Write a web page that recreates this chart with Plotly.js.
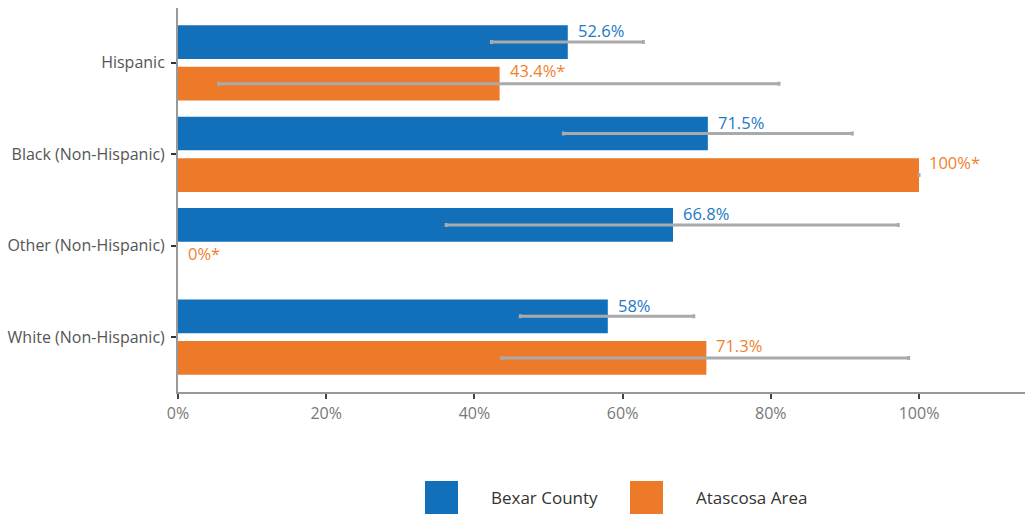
<!DOCTYPE html>
<html>
<head>
<meta charset="utf-8">
<script src="https://cdn.plot.ly/plotly-3.0.1.min.js"></script>
<style>html,body{margin:0;padding:0;background:#fff;}#chart{width:1025px;height:514px;}</style>
</head>
<body>
<div id="chart"></div>
<script>
// ---- Data ----
const categories = ["Hispanic", "Black (Non-Hispanic)", "Other (Non-Hispanic)", "White (Non-Hispanic)"];
const seriesNames = ["Bexar County", "Atascosa Area"];
const bexarValues = [52.6, 71.5, 66.8, 58];
const bexarLabels = ["52.6%", "71.5%", "66.8%", "58%"];
const bexarErrPlus = [10.2, 19.5, 30.4, 11.6];
const bexarErrMinus = [10.3, 19.5, 30.6, 11.8];
const atascosaValues = [43.4, 100, 0, 71.3];
const atascosaLabels = ["43.4%*", "100%*", "0%*", "71.3%"];
const atascosaErrPlus = [37.7, 0, NaN, 27.3];
const atascosaErrMinus = [37.9, 0, NaN, 27.6];
const xTickVals = [0, 20, 40, 60, 80, 100];
const xTickText = ["0%", "20%", "40%", "60%", "80%", "100%"];

// ---- Style ----
const BLUE = "#1170b9";
const ORANGE = "#ed7a29";
const BLUE_TXT = "#2378c6";
const ORANGE_TXT = "#f07f2e";
const FONT = "'Open Sans', sans-serif";

const errStyle = {color: "#aaaaaa", thickness: 3, width: 2};

const traces = [
  {
    type: "bar", orientation: "h", name: seriesNames[0],
    y: categories, x: bexarValues,
    marker: {color: BLUE, line: {width: 0}},
    error_x: Object.assign({type: "data", symmetric: false, array: bexarErrPlus, arrayminus: bexarErrMinus}, errStyle),
    hoverinfo: "x+y"
  },
  {
    type: "bar", orientation: "h", name: seriesNames[1],
    y: categories, x: atascosaValues,
    marker: {color: ORANGE, line: {width: 0}},
    error_x: Object.assign({type: "data", symmetric: false, array: atascosaErrPlus, arrayminus: atascosaErrMinus}, errStyle),
    hoverinfo: "x+y"
  }
];

const annotations = [];
categories.forEach((c, i) => {
  annotations.push({x: bexarValues[i], y: c, xref: "x", yref: "y", text: bexarLabels[i],
    showarrow: false, xanchor: "left", yanchor: "middle", xshift: 8, yshift: 32,
    font: {family: FONT, size: 16.5, color: BLUE_TXT}});
  annotations.push({x: atascosaValues[i], y: c, xref: "x", yref: "y", text: atascosaLabels[i],
    showarrow: false, xanchor: "left", yanchor: "middle", xshift: 8, yshift: -8,
    font: {family: FONT, size: 16.5, color: ORANGE_TXT}});
});

// Manual legend (large swatches)
const plotL = 178, plotR = 1025, plotT = 8, plotB = 392;
const pw = plotR - plotL, ph = plotB - plotT;
const px = v => (v - plotL) / pw;
const py = v => (plotB - v) / ph;
const legendItems = [
  {name: seriesNames[0], color: BLUE, sx: 425, tx: 489},
  {name: seriesNames[1], color: ORANGE, sx: 630, tx: 694}
];
const shapes = [];
legendItems.forEach(it => {
  shapes.push({type: "rect", xref: "paper", yref: "paper",
    x0: px(it.sx), x1: px(it.sx + 33), y0: py(481), y1: py(514),
    fillcolor: it.color, line: {width: 0}});
  annotations.push({xref: "paper", yref: "paper", x: px(it.tx), y: py(497.5),
    text: it.name, showarrow: false, xanchor: "left", yanchor: "middle",
    font: {family: FONT, size: 17, color: "#333333"}});
});

const layout = {
  width: 1025, height: 514,
  margin: {l: 178, r: 0, t: 8, b: 122, pad: 0},
  paper_bgcolor: "#ffffff", plot_bgcolor: "#ffffff",
  barmode: "group", bargap: 0.09, bargroupgap: 0.19,
  showlegend: false,
  font: {family: FONT, color: "#555555"},
  xaxis: {
    range: [0, 114.3], tickvals: xTickVals, ticktext: xTickText,
    showgrid: false, zeroline: false,
    showline: true, linecolor: "#999999", linewidth: 2,
    ticks: "outside", ticklen: 5, tickwidth: 1.5, tickcolor: "#444444",
    ticklabelstandoff: 1,
    tickfont: {family: FONT, size: 16, color: "#777777"}, fixedrange: true
  },
  yaxis: {
    type: "category", categoryorder: "array", categoryarray: categories,
    range: [3.6, -0.6],
    showgrid: false, zeroline: false,
    showline: true, linecolor: "#999999", linewidth: 2,
    ticks: "outside", ticklen: 5, tickwidth: 1.5, tickcolor: "#333333",
    ticklabelstandoff: 3,
    tickfont: {family: FONT, size: 16, color: "#555555"}, fixedrange: true
  },
  annotations: annotations,
  shapes: shapes
};

Plotly.newPlot("chart", traces, layout, {displayModeBar: false});
</script>
</body>
</html>
